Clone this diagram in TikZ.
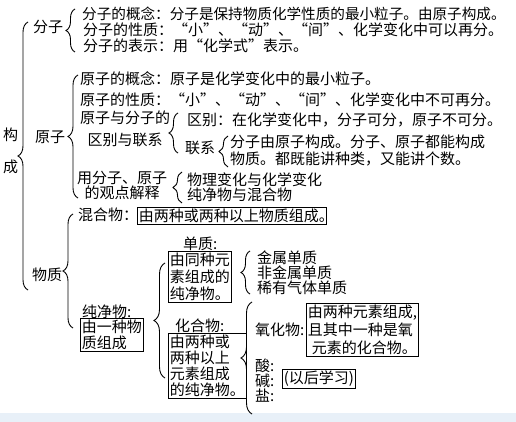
\documentclass[tikz,border=0pt]{standalone}
\usepackage{fontspec}
\setmainfont{Noto Sans CJK SC}
\usetikzlibrary{decorations.pathreplacing}
\definecolor{stripblue}{RGB}{232,240,248}

\begin{document}
\begin{tikzpicture}[
    x=1pt, y=-1pt,
    txt/.style={anchor=west, inner sep=0pt, font=\fontsize{15pt}{16pt}\selectfont},
    boxed/.style={txt, draw, line width=0.6pt, inner sep=1.5pt, align=left},
    brc/.style={decorate, decoration={brace, amplitude=#1}, line width=0.9pt},
    brc/.default=9pt
  ]
  \useasboundingbox (0,0) rectangle (516,422);
  \fill[stripblue] (0,413) rectangle (516,422);

  \coordinate (gouB) at (28,290);
  \coordinate (gouT) at (28,22);
  \coordinate (fzB) at (75,52);
  \coordinate (fzT) at (75,9);
  \coordinate (yzB) at (78,198);
  \coordinate (yzT) at (78,75);
  \coordinate (qbB) at (178,153);
  \coordinate (qbT) at (178,113);
  \coordinate (lxB) at (228,167);
  \coordinate (lxT) at (228,136);
  \coordinate (jsB) at (182,203);
  \coordinate (jsT) at (182,172);
  \coordinate (wzB) at (73,328);
  \coordinate (wzT) at (73,214);
  \coordinate (cjB) at (165,378);
  \coordinate (cjT) at (165,263);
  \coordinate (dzB) at (250,294);
  \coordinate (dzT) at (250,251);
  \coordinate (hhB) at (252,414);
  \coordinate (hhT) at (252,302);

  \node[txt] (gou) at (3,135) {构};
  \node[txt] (cheng) at (3,167) {成};
  \draw[brc=10pt] (gouB) -- (gouT);

  \node[txt] (fenzi) at (33,27) {分子};
  \draw[brc] (fzB) -- (fzT);
  \node[txt, font=\fontsize{14.6pt}{16pt}\selectfont] (fz1) at (82,14) {分子的概念：分子是保持物质化学性质的最小粒子。由原子构成。};
  \node[txt] (fz2) at (83,30) {分子的性质：“小”、“动”、“间”、化学变化中可以再分。};
  \node[txt] (fz3) at (83,46) {分子的表示：用“化学式”表示。};

  \node[txt] (yuanzi) at (35,137) {原子};
  \draw[brc=10pt] (yzB) -- (yzT);
  \node[txt] (yz1) at (80,79) {原子的概念：原子是化学变化中的最小粒子。};
  \node[txt] (yz2) at (80,100) {原子的性质：“小”、“动”、“间”、化学变化中不可再分。};
  \node[txt, align=center] (yz3) at (80,129) {原子与分子的\\[6pt]区别与联系};
  \draw[brc] (qbB) -- (qbT);
  \node[txt] (qubie) at (187,120) {区别：在化学变化中，分子可分，原子不可分。};
  \node[txt] (lianxi) at (185,148) {联系};
  \draw[brc] (lxB) -- (lxT);
  \node[txt, align=left] (lianxiT) at (230,150) {分子由原子构成。分子、原子都能构成\\[1pt]物质。都既能讲种类，又能讲个数。};
  \node[txt, align=center] (jieshi) at (77,185) {用分子、原子\\[-1pt]的观点解释};
  \draw[brc] (jsB) -- (jsT);
  \node[txt, align=left] (bianhua) at (187,187.5) {物理变化与化学变化\\[-1pt]纯净物与混合物};

  \node[txt] (wuzhi) at (32,275) {物质};
  \draw[brc=10pt] (wzB) -- (wzT);
  \node[txt] (hunhe) at (78,215) {混合物：};
  \node[boxed] (hunheD) at (137,215.5) {由两种或两种以上物质组成。\hspace{-9pt}};
  \node[txt] (chun) at (82,312) {纯净物:};
  \node[boxed] (chunD) at (80,335) {由一种物\\质组成};
  \draw[brc=11pt] (cjB) -- (cjT);

  \node[txt] (danzhi) at (183,244) {单质:};
  \node[boxed] (danzhiD) at (168,276.5) {由同种元\\[1pt]素组成的\\[1pt]纯净物。};
  \draw[brc] (dzB) -- (dzT);
  \node[txt] (dz1) at (257,258) {金属单质};
  \node[txt] (dz2) at (257,273) {非金属单质};
  \node[txt] (dz3) at (257,288) {稀有气体单质};

  \node[txt] (huahe) at (175,326) {化合物:};
  \node[boxed] (huaheD) at (168,366) {由两种或\\两种以上\\元素组成\\的纯净物。\hspace{-9pt}};
  \draw[brc=11pt] (hhB) -- (hhT);
  \node[txt] (yang) at (255,330) {氧化物:};
  \node[boxed] (yangD) at (306,330) {由两种元素组成,\\[2pt]且其中一种是氧\\[2pt]\hspace*{4pt}元素的化合物。};
  \node[txt] (suan) at (255,366) {酸:};
  \node[txt] (jian) at (255,381) {碱:};
  \node[txt] (yan) at (255,396) {盐:};
  \node[boxed] (later) at (282,379) {(以后学习)};
\end{tikzpicture}
\end{document}
